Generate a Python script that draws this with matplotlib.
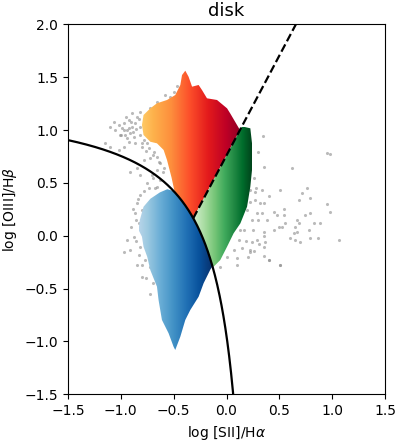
import numpy as np
import matplotlib
matplotlib.use("Agg")
from matplotlib import pyplot as plt
from matplotlib.patches import Polygon

# Outlines of the three coloured point clouds (log [SII]/Ha, log [OIII]/Hb)
seyfert_x = [-0.3146, 0.127, 0.036, 0.005, -0.09, -0.185, -0.232, -0.264, -0.326,
             -0.359, -0.39, -0.421, -0.437, -0.485, -0.563, -0.658, -0.721, -0.785,
             -0.80, -0.785, -0.721, -0.658, -0.595, -0.563, -0.52, -0.49, -0.45,
             -0.40, -0.35]
seyfert_y = [0.165, 1.0, 1.155, 1.205, 1.284, 1.30, 1.378, 1.426, 1.41,
             1.504, 1.561, 1.52, 1.426, 1.331, 1.284, 1.253, 1.205, 1.142,
             1.047, 0.953, 0.889, 0.874, 0.811, 0.716, 0.55, 0.41, 0.365,
             0.30, 0.225]

sf_x = [-0.50, -0.56, -0.63, -0.72, -0.785, -0.82, -0.832, -0.80, -0.785, -0.75,
        -0.721, -0.658, -0.643, -0.611, -0.548, -0.501, -0.485, -0.437, -0.39,
        -0.343, -0.264, -0.217, -0.153, -0.133, -0.15, -0.20, -0.25, -0.30,
        -0.35, -0.40, -0.45]
sf_y = [0.422, 0.44, 0.41, 0.35, 0.274, 0.149, 0.054, -0.009, -0.104, -0.2,
        -0.325, -0.482, -0.608, -0.797, -0.923, -1.05, -1.081, -0.955, -0.797,
        -0.703, -0.577, -0.450, -0.32, -0.29, -0.232, -0.085, 0.037, 0.139,
        0.225, 0.30, 0.365]

liner_x = [0.143, 0.162, 0.225, 0.241, 0.241, 0.225, 0.194, 0.131, 0.067, 0.005,
           -0.059, -0.122, -0.133, -0.15, -0.20, -0.25, -0.30, -0.3146]
liner_y = [1.03, 1.031, 1.016, 0.874, 0.622, 0.464, 0.274, 0.117, 0.023, -0.104,
           -0.23, -0.293, -0.29, -0.232, -0.085, 0.037, 0.139, 0.165]

# Unclassified (grey) galaxies
grey_x = [-0.579, -0.532, -0.658, -0.721, -0.816, -0.895, -0.847, -0.926, -0.974,
          -1.021, -1.068, -1.100, -1.052, -0.989, -0.942, -0.895, -0.863, -0.816,
          -0.911, -0.958, -1.005, -0.879, -0.816, -0.784, -0.753, -0.863, -0.926,
          -0.974, -0.800, -0.737, -0.690, -0.658, -0.721, -0.627, -0.595, -0.784,
          -0.847, -0.911, -0.816, -0.706, -0.627, -0.658, -0.737, -0.816, -0.847,
          -0.800, -0.863, -0.832, -0.784, -0.879, -0.942, -0.911, -0.816, -0.769,
          -0.974, -0.721, -0.847, -0.800, -0.627, -1.100, -1.147, -1.021,
          -0.95, -0.90, -0.86, -0.92, -0.83, -0.88, -0.97, -0.80, -0.76, -0.70,
          -0.64, -0.60, -0.66, -0.70, -0.75, -0.68, -0.78, -0.84, -0.88, -0.86,
          -0.90, -0.86, -0.83, -0.80, -0.76, -0.70, -0.72, -1.00, -0.94, -0.60,
          -0.50, -0.47,
          0.509, 0.762, 0.714, 0.793, 0.683, 0.951, 0.976, 0.399, 0.446, 0.541,
          0.547, 0.478, 0.320, 0.351, 0.288, 0.746, 0.793, 0.667, 0.683, 0.557,
          0.525, 0.493, 0.651, 0.825, 0.888, 0.777, 0.635, 0.667, 0.604, 0.651,
          0.698, 0.787, 0.862, 1.061, 0.367, 0.304, 0.241, 0.225, 0.257, 0.351,
          0.399, 0.503, 0.099, 0.351, 0.336, 0.383, 0.225, 0.273, 0.336, 0.146,
          0.131, 0.951, 0.976, 0.620, 0.345, 0.294, 0.351, 0.509, 0.398,
          0.225, 0.273, 0.194, 0.241, 0.162, 0.115, 0.068, 0.005, -0.058, 0.289,
          0.352, 0.225, 0.26, 0.28, 0.30, 0.25, 0.18, 0.20, 0.10, 0.35, 0.45]
grey_y = [1.331, 1.315, 1.268, 1.205, 1.173, 1.158, 1.126, 1.095, 1.063,
          1.047, 1.079, 1.031, 1.000, 1.016, 1.000, 1.031, 1.063, 1.031,
          0.968, 0.953, 0.953, 0.937, 0.953, 0.905, 0.874, 0.874, 0.890,
          0.842, 0.842, 0.827, 0.795, 0.748, 0.732, 0.685, 0.637, 0.716,
          0.637, 0.606, 0.574, 0.574, 0.527, 0.464, 0.448, 0.385, 0.306,
          0.243, 0.212, 0.117, 0.038, -0.009, -0.041, -0.135, -0.104, -0.230,
          -0.151, -0.293, -0.277, -0.388, -0.356, 0.842, 0.874, 0.811,
          1.12, 1.08, 1.01, 1.02, 1.10, 0.98, 1.00, 0.88, 0.80, 0.76,
          0.70, 0.60, 0.62, 0.55, 0.50, 0.45, 0.42, 0.35, 0.25, 0.15,
          0.08, -0.05, -0.18, -0.28, -0.40, -0.45, -0.55, 0.95, 0.92, 1.25,
          1.36, 1.42,
          0.433, 0.449, 0.408, 0.354, 0.338, 0.300, 0.228, 0.376, 0.228, 0.250,
          0.196, 0.196, 0.307, 0.307, 0.212, 0.196, 0.212, 0.149, 0.124, 0.117,
          0.080, 0.086, 0.080, 0.117, 0.117, 0.054, 0.023, 0.039, -0.024, -0.040,
          -0.056, -0.024, -0.024, -0.040, -0.056, -0.078, -0.056, -0.135, -0.141, -0.192,
          -0.229, -0.277, -0.214, 0.039, 0.212, 0.149, 0.322, 0.417, 0.433, -0.119,
          0.054, 0.780, 0.773, 0.638, 0.943, 0.795, 0.653, -0.277, -0.230,
          0.433, 0.338, 0.243, 0.149, 0.054, -0.040, -0.135, -0.198, -0.293, -0.040,
          -0.104, -0.151, 0.55, 0.45, 0.15, 0.05, -0.05, -0.20, -0.28, 0.00, 0.05]

fig = plt.figure(figsize=(3.95, 4.42), dpi=100)
ax = fig.add_axes([0.172, 0.108, 0.803, 0.837])

ax.scatter(grey_x, grey_y, s=5, color="#8c8c8c", alpha=0.6, linewidths=0, zorder=1)


def gradient_fill(xs, ys, cmap, lo, hi):
    """Fill the outline with a colour ramp running left to right"""
    poly = Polygon(np.column_stack([xs, ys]), closed=True, facecolor="none",
                   edgecolor="none")
    ax.add_patch(poly)
    x0, x1 = min(xs), max(xs)
    y0, y1 = min(ys), max(ys)
    ramp = np.tile(np.linspace(lo, hi, 300), (300, 1))
    im = ax.imshow(ramp, cmap=cmap, vmin=0, vmax=1, extent=[x0, x1, y0, y1],
                   origin="lower", aspect="auto", interpolation="bilinear", zorder=2)
    im.set_clip_path(poly)


gradient_fill(seyfert_x, seyfert_y, "YlOrRd", 0.3, 0.97)
gradient_fill(sf_x, sf_y, "Blues", 0.3, 1.0)
gradient_fill(liner_x, liner_y, "Greens", 0.2, 1.0)

# Kewley et al. 2001 maximum starburst line and Seyfert/LINER line
xk = np.linspace(-1.5, 0.3, 400)
ax.plot(xk, 0.72 / (xk - 0.32) + 1.30, color="black", lw=1.6, zorder=3)
xs = np.linspace(-0.3146, 0.8, 50)
ax.plot(xs, 1.89 * xs + 0.76, color="black", lw=1.6, ls="--", zorder=3)

ax.set_xlim(-1.5, 1.5)
ax.set_ylim(-1.5, 2.0)
ax.set_xticks([-1.5, -1.0, -0.5, 0.0, 0.5, 1.0, 1.5])
ax.set_yticks([-1.5, -1.0, -0.5, 0.0, 0.5, 1.0, 1.5, 2.0])
ax.set_title("disk", fontsize=13)
ax.set_xlabel(r"log [SII]/H$\alpha$")
ax.set_ylabel(r"log [OIII]/H$\beta$")

fig.savefig("out.png", dpi=100)
